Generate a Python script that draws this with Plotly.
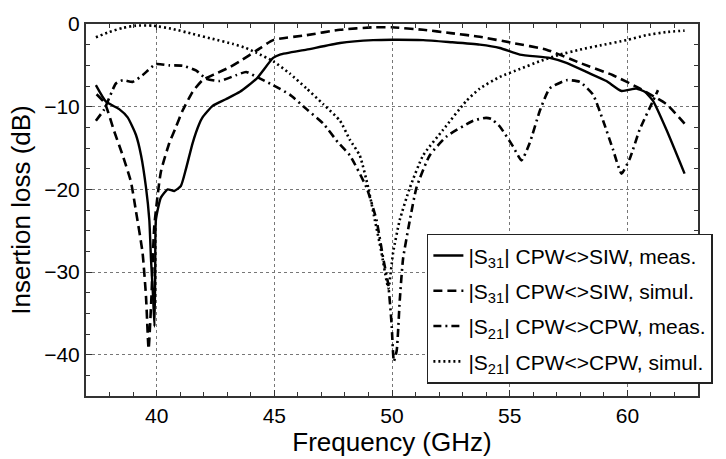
import plotly.graph_objects as go

# |S31| CPW<>SIW, measured
s31_meas_f = [37.42, 37.85, 38.41, 38.77, 39.12, 39.34, 39.55, 39.69, 39.76, 39.85, 39.91, 39.94,
              39.97, 40.18, 40.47, 40.75, 41.03, 41.25, 41.53, 41.81, 41.95, 42.38, 42.94, 43.54,
              44.25, 44.95, 45.24, 46.37, 47.79, 49.2, 50.0, 51.32, 52.5, 53.73, 54.58, 55.43,
              56.7, 57.41, 58.26, 59.11, 59.75, 60.38, 60.74, 61.09, 61.66, 62.43]
s31_meas_db = [-7.4, -9.4, -10.3, -11.3, -13.4, -15.9, -19.8, -23.7, -28.4, -33.0, -36.6, -30.0,
               -23.7, -21.0, -20.0, -20.2, -19.6, -17.5, -14.4, -12.1, -11.3, -9.9, -9.1, -8.2,
               -6.6, -4.1, -3.7, -3.1, -2.3, -1.95, -1.9, -1.95, -2.2, -2.5, -2.9, -3.7,
               -4.1, -4.7, -5.8, -6.9, -8.1, -7.8, -8.2, -9.3, -12.8, -18.1]

# |S31| CPW<>SIW, simulated
s31_sim_f = [37.45, 37.8, 38.2, 38.56, 38.91, 39.12, 39.4, 39.55, 39.66, 39.78, 39.9, 40.18,
             40.54, 40.8, 41.1, 41.53, 41.95, 42.52, 43.09, 43.54, 44.25, 44.95, 46.37, 47.79,
             49.2, 50.0, 51.32, 52.5, 53.73, 55.14, 56.56, 57.98, 59.39, 60.52, 61.66, 62.43]
s31_sim_db = [-8.5, -9.6, -13.0, -15.9, -19.1, -22.6, -27.6, -33.0, -39.3, -33.0, -24.5, -17.9,
              -14.4, -12.6, -10.5, -8.2, -6.8, -6.0, -5.25, -4.5, -3.2, -1.95, -1.35, -0.7,
              -0.4, -0.4, -0.7, -1.1, -1.55, -2.3, -3.1, -4.7, -6.2, -7.8, -9.7, -12.05]

# |S21| CPW<>CPW, measured
s21_meas_f = [37.42, 37.78, 38.27, 38.56, 38.98, 39.4, 39.97, 40.54, 41.1, 41.67, 42.1, 42.66,
              43.37, 43.8, 44.25, 44.95, 45.66, 46.37, 47.08, 47.7, 48.21, 48.92, 49.34, 49.63,
              49.84, 49.98, 50.08, 50.2, 50.33, 50.47, 50.76, 51.04, 51.6, 52.32, 53.45, 54.0,
              54.23, 54.58, 55.14, 55.5, 55.85, 56.28, 56.7, 57.41, 57.98, 58.54, 58.97, 59.39,
              59.75, 60.1, 60.52, 61.09, 61.3]
s21_meas_db = [-11.7, -10.3, -7.2, -6.8, -7.0, -6.2, -4.85, -5.0, -5.05, -5.6, -6.6, -6.9,
               -6.2, -5.8, -6.4, -7.4, -8.55, -10.3, -12.05, -14.3, -15.9, -19.8, -23.7, -28.4,
               -31.5, -36.2, -40.8, -39.5, -33.4, -28.4, -23.7, -19.8, -15.9, -13.6, -11.7, -11.35,
               -11.5, -12.4, -14.8, -16.5, -14.4, -10.5, -7.8, -6.8, -7.0, -8.55, -11.7, -15.2,
               -18.1, -16.3, -12.8, -9.3, -8.0]

# |S21| CPW<>CPW, simulated
s21_sim_f = [37.42, 37.99, 38.56, 39.12, 39.83, 40.68, 41.53, 42.38, 43.23, 43.79, 44.25, 44.95,
             45.66, 46.37, 47.08, 47.79, 48.21, 48.63, 48.99, 49.27, 49.55, 49.77, 49.85, 50.05,
             50.33, 50.76, 51.32, 52.17, 53.16, 53.73, 54.58, 55.43, 56.28, 57.13, 57.98, 58.83,
             59.96, 60.81, 61.66, 62.43]
s21_sim_db = [-1.6, -0.97, -0.47, -0.2, -0.2, -0.6, -1.2, -1.8, -2.4, -2.9, -3.5, -4.5,
              -6.0, -7.8, -9.7, -11.7, -14.0, -15.9, -19.8, -23.7, -27.6, -31.1, -32.0, -27.6,
              -23.7, -19.8, -15.9, -12.8, -9.3, -7.8, -6.4, -5.45, -4.5, -3.7, -3.1, -2.6,
              -1.95, -1.35, -0.97, -0.8]

x_ticks = [40, 45, 50, 55, 60]
y_ticks = [-40, -30, -20, -10, 0]

series = [
    (s31_meas_f, s31_meas_db, "|S<sub>31</sub>| CPW&lt;&gt;SIW, meas.", "solid", 2.4),
    (s31_sim_f, s31_sim_db, "|S<sub>31</sub>| CPW&lt;&gt;SIW, simul.", "9px,5px", 2.6),
    (s21_meas_f, s21_meas_db, "|S<sub>21</sub>| CPW&lt;&gt;CPW, meas.", "8px,4px,2px,4px", 2.6),
    (s21_sim_f, s21_sim_db, "|S<sub>21</sub>| CPW&lt;&gt;CPW, simul.", "2px,3px", 2.6),
]

fig = go.Figure()
for i, (f, db, name, dash, w) in enumerate(series):
    fig.add_trace(go.Scatter(
        x=f, y=db, mode="lines", name=name, legendgroup=f"g{i}",
        line=dict(color="black", width=w, dash=dash, shape="spline", smoothing=0.5),
    ))

font = "Liberation Sans, Arial, Helvetica, sans-serif"
axis_common = dict(
    showline=True, linecolor="#333", linewidth=2, mirror="ticks",
    ticks="inside", ticklen=6, tickwidth=1, tickcolor="#333",
    showgrid=True, gridcolor="#777", griddash="dot", gridwidth=1,
    zeroline=False,
    tickfont=dict(family=font, size=21, color="black"),
)

fig.update_xaxes(
    range=[37, 63], tickvals=x_ticks,
    minor=dict(dtick=1, tick0=37, ticks="inside", ticklen=4, tickcolor="#333", showgrid=False),
    title=dict(text="Frequency (GHz)", font=dict(family=font, size=26, color="black"), standoff=2),
    **axis_common,
)
fig.update_yaxes(
    range=[-45, 0], tickvals=y_ticks,
    minor=dict(dtick=2.5, tick0=0, ticks="inside", ticklen=4, tickcolor="#333", showgrid=False),
    title=dict(text="Insertion loss (dB)", font=dict(family=font, size=26, color="black"), standoff=6),
    **axis_common,
)

fig.update_layout(
    width=726, height=459,
    margin=dict(l=86, r=28, t=16, b=57),
    paper_bgcolor="white", plot_bgcolor="white",
    showlegend=True,
    legend=dict(
        x=0.557, y=0.436, xanchor="left", yanchor="top",
        bgcolor="white", bordercolor="#222", borderwidth=1.5,
        font=dict(family=font, size=21, color="black"),
        itemwidth=30, tracegroupgap=5,
    ),
)

fig.write_html("out.html")
